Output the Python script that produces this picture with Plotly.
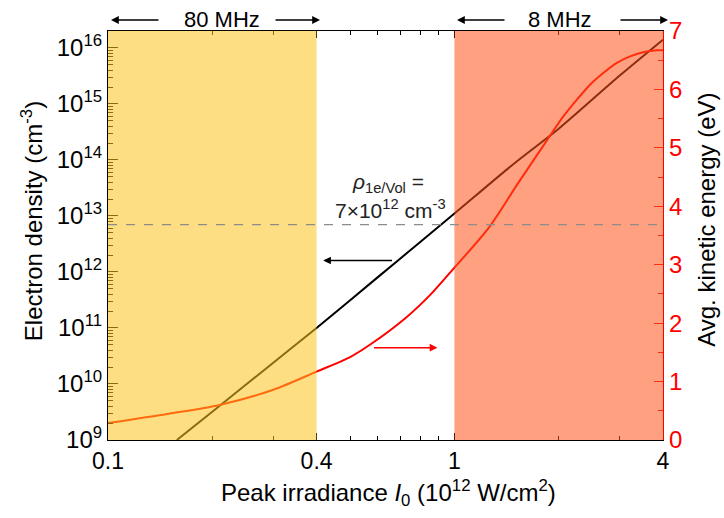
import numpy as np
import plotly.graph_objects as go

# ---- data ----
irr_density = [0.158, 0.2, 0.3, 0.4, 0.6, 0.8, 1.0, 1.5, 2.0, 3.0, 4.0]
electron_density = [1.0e9, 3.2e9, 2.4e10, 1.0e11, 8.0e11, 3.5e12, 1.1e13, 9.0e13, 3.6e14, 3.2e15, 1.4e16]

irr_energy = [0.1, 0.15, 0.21, 0.3, 0.4, 0.5, 0.58, 0.72, 0.85, 0.97, 1.0,
              1.256, 1.517, 1.845, 2.07, 2.26, 2.47, 2.70, 2.95, 3.23, 3.53, 3.85, 4.0]
kinetic_energy = [0.29, 0.45, 0.6, 0.86, 1.17, 1.42, 1.66, 2.08, 2.48, 2.86, 2.95,
                  3.63, 4.37, 5.12, 5.55, 5.83, 6.09, 6.29, 6.46, 6.57, 6.64, 6.67, 6.67]

rho_threshold = 7e12
band_80mhz = [0.1, 0.4]
band_8mhz = [1.0, 4.0]

x_tickvals = [0.1, 0.4, 1, 4]
x_ticktext = ["0.1", "0.4", "1", "4"]
x_minor = [0.2, 0.3, 0.5, 0.6, 0.7, 0.8, 0.9, 2, 3]
y_exponents = list(range(9, 17))
y2_ticks = list(range(0, 8))

FONT = "Liberation Sans, Arial, sans-serif"

fig = go.Figure()
fig.add_trace(go.Scatter(x=irr_density, y=electron_density, mode="lines",
                         line=dict(color="black", width=2, shape="spline", smoothing=0.8),
                         yaxis="y", showlegend=False))
fig.add_trace(go.Scatter(x=irr_energy, y=kinetic_energy, mode="lines",
                         line=dict(color="#ff0000", width=2, shape="spline", smoothing=0.8),
                         yaxis="y2", showlegend=False))

# shaded bands (drawn above the curves, semi-transparent)
fig.add_shape(type="rect", xref="x", yref="paper", x0=band_80mhz[0], x1=band_80mhz[1],
              y0=0, y1=1, fillcolor="rgb(253,195,28)", opacity=0.55, line_width=0, layer="above")
fig.add_shape(type="rect", xref="x", yref="paper", x0=band_8mhz[0], x1=band_8mhz[1],
              y0=0, y1=1, fillcolor="rgb(255,82,24)", opacity=0.55, line_width=0, layer="above")
# threshold dashed line
fig.add_shape(type="line", xref="paper", yref="y", x0=0, x1=1, y0=rho_threshold, y1=rho_threshold,
              line=dict(color="rgb(140,140,140)", width=1.2, dash="dash"), layer="above")

y_minor = [m * 10 ** e for e in range(9, 17) for m in range(2, 10)]

fig.update_layout(
    width=724, height=518,
    margin=dict(l=108, r=61, t=31, b=78),
    paper_bgcolor="white", plot_bgcolor="white",
    font=dict(family=FONT, size=23, color="black"),
    xaxis=dict(type="log", range=[-1, np.log10(4)], tickvals=x_tickvals, ticktext=x_ticktext,
               ticks="inside", ticklen=7, tickwidth=1, tickcolor="black",
               showline=True, linecolor="black", linewidth=1.2, mirror="ticks",
               showgrid=False, zeroline=False,
               minor=dict(tickvals=x_minor, ticks="inside", ticklen=4, tickcolor="black", showgrid=False),
               tickfont=dict(size=23)),
    yaxis=dict(type="log", range=[9, np.log10(2e16)],
               tickvals=[10 ** e for e in y_exponents],
               ticktext=["10<sup>%d</sup>" % e for e in y_exponents],
               ticks="inside", ticklen=10, tickwidth=1, tickcolor="black",
               showline=True, linecolor="black", linewidth=1.2,
               showgrid=False, zeroline=False,
               minor=dict(tickvals=y_minor, ticks="inside", ticklen=5, tickcolor="black", showgrid=False),
               tickfont=dict(size=24)),
    yaxis2=dict(overlaying="y", side="right", range=[0, 7], tickvals=y2_ticks,
                ticks="inside", ticklen=9, tickwidth=1, tickcolor="red",
                showline=True, linecolor="red", linewidth=1.2,
                showgrid=False, zeroline=False,
                minor=dict(dtick=0.5, ticks="inside", ticklen=5, tickcolor="red", showgrid=False),
                tickfont=dict(size=24, color="red")),
)

anns = []
# axis titles
anns.append(dict(xref="paper", yref="paper", x=-0.137, y=0.535, textangle=-90, showarrow=False,
                 text="Electron density (cm<sup>-3</sup>)", font=dict(size=24, color="black"),
                 xanchor="center", yanchor="middle"))
anns.append(dict(xref="paper", yref="paper", x=1.079, y=0.538, textangle=-90, showarrow=False,
                 text="Avg. kinetic energy (eV)", font=dict(size=24, color="black"),
                 xanchor="center", yanchor="middle"))
anns.append(dict(xref="paper", yref="paper", x=0.505, y=-0.13, showarrow=False,
                 text="Peak irradiance <i>I</i><sub>0</sub> (10<sup>12</sup> W/cm<sup>2</sup>)",
                 font=dict(size=24, color="black"), xanchor="center", yanchor="middle"))
# threshold label
anns.append(dict(xref="paper", yref="paper", x=(388 - 108) / 555, y=(440 - 183) / 409, showarrow=False,
                 text="<i>ρ</i><sub>1e/Vol</sub> =", font=dict(size=21, color="#222"),
                 xanchor="center", yanchor="middle"))
anns.append(dict(xref="paper", yref="paper", x=(390 - 108) / 555, y=(440 - 209) / 409, showarrow=False,
                 text="7×10<sup>12</sup> cm<sup>-3</sup>", font=dict(size=21, color="#222"),
                 xanchor="center", yanchor="middle"))
# curve-axis arrows
anns.append(dict(xref="x", yref="y", x=np.log10(0.418), y=np.log10(1.6e12),
                 axref="x", ayref="y", ax=np.log10(0.667), ay=np.log10(1.6e12),
                 text="", showarrow=True, arrowhead=2, arrowsize=1.1, arrowwidth=1.4, arrowcolor="black"))
anns.append(dict(xref="x", yref="y2", x=np.log10(0.893), y=1.58,
                 axref="x", ayref="y2", ax=np.log10(0.58), ay=1.58,
                 text="", showarrow=True, arrowhead=2, arrowsize=1.1, arrowwidth=1.4, arrowcolor="red"))
# top repetition-rate labels
ytop = (440 - 20) / 409
for head, dx in [(111, 49), (320, -46), (457, 49), (668, -49)]:
    anns.append(dict(xref="paper", yref="paper", x=(head - 108) / 555, y=ytop, ax=dx, ay=0,
                     text="", showarrow=True, arrowhead=2, arrowsize=1.2, arrowwidth=1.3,
                     arrowcolor="black"))
anns.append(dict(xref="paper", yref="paper", x=(222 - 108) / 555, y=ytop, showarrow=False,
                 text="80 MHz", font=dict(size=22, color="black"), xanchor="center", yanchor="middle"))
anns.append(dict(xref="paper", yref="paper", x=(560 - 108) / 555, y=ytop, showarrow=False,
                 text="8 MHz", font=dict(size=22, color="black"), xanchor="center", yanchor="middle"))
fig.update_layout(annotations=anns)

fig.write_html("out.html", config={"displayModeBar": False},
               post_script="document.body.style.margin='0';")
